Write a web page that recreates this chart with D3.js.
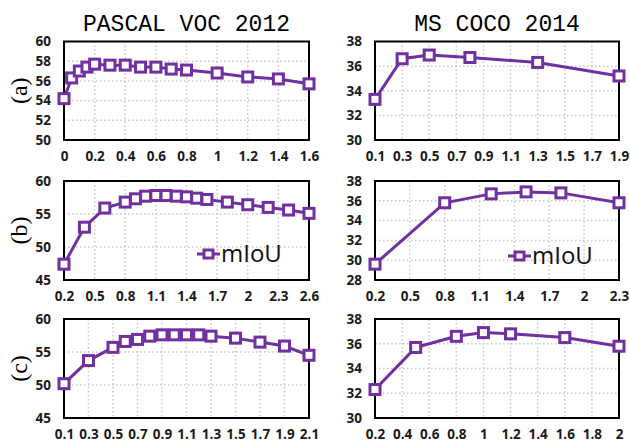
<!DOCTYPE html>
<html>
<head>
<meta charset="utf-8">
<script src="https://cdn.jsdelivr.net/npm/d3@7"></script>
<style>
  body { margin: 0; background: #fff; }
  .tick text { font-family: "Open Sans", sans-serif; font-weight: bold; font-size: 13.5px; fill: #1a1a1a; }
</style>
</head>
<body>
<div id="chart"></div>
<script>
// ---- data ----
var titles = ["PASCAL VOC 2012", "MS COCO 2014"];
var rowLabels = ["(a)", "(b)", "(c)"];

var vocA_x = [0, 0.05, 0.1, 0.15, 0.2, 0.3, 0.4, 0.5, 0.6, 0.7, 0.8, 1.0, 1.2, 1.4, 1.6];
var vocA_y = [54.2, 56.3, 57.0, 57.4, 57.7, 57.6, 57.6, 57.4, 57.4, 57.2, 57.1, 56.8, 56.4, 56.2, 55.7];
var vocA_xticks = [0, 0.2, 0.4, 0.6, 0.8, 1, 1.2, 1.4, 1.6];
var vocA_yticks = [50, 52, 54, 56, 58, 60];

var cocoA_x = [0.1, 0.3, 0.5, 0.8, 1.3, 1.9];
var cocoA_y = [33.3, 36.6, 36.9, 36.7, 36.3, 35.2];
var cocoA_xticks = [0.1, 0.3, 0.5, 0.7, 0.9, 1.1, 1.3, 1.5, 1.7, 1.9];
var cocoA_yticks = [30, 32, 34, 36, 38];

var vocB_x = [0.2, 0.4, 0.6, 0.8, 0.9, 1.0, 1.1, 1.2, 1.3, 1.4, 1.5, 1.6, 1.8, 2.0, 2.2, 2.4, 2.6];
var vocB_y = [47.4, 53.0, 55.9, 56.8, 57.3, 57.7, 57.8, 57.8, 57.7, 57.6, 57.4, 57.2, 56.8, 56.4, 56.0, 55.6, 55.1];
var vocB_xticks = [0.2, 0.5, 0.8, 1.1, 1.4, 1.7, 2, 2.3, 2.6];
var vocB_yticks = [45, 50, 55, 60];

var cocoB_x = [0.2, 0.8, 1.2, 1.5, 1.8, 2.3];
var cocoB_y = [29.6, 35.8, 36.7, 36.9, 36.8, 35.8];
var cocoB_xticks = [0.2, 0.5, 0.8, 1.1, 1.4, 1.7, 2, 2.3];
var cocoB_yticks = [28, 30, 32, 34, 36, 38];

var vocC_x = [0.1, 0.3, 0.5, 0.6, 0.7, 0.8, 0.9, 1.0, 1.1, 1.2, 1.3, 1.5, 1.7, 1.9, 2.1];
var vocC_y = [50.2, 53.7, 55.7, 56.6, 56.9, 57.4, 57.6, 57.6, 57.6, 57.6, 57.4, 57.1, 56.5, 55.9, 54.5];
var vocC_xticks = [0.1, 0.3, 0.5, 0.7, 0.9, 1.1, 1.3, 1.5, 1.7, 1.9, 2.1];
var vocC_yticks = [45, 50, 55, 60];

var cocoC_x = [0.2, 0.5, 0.8, 1.0, 1.2, 1.6, 2.0];
var cocoC_y = [32.3, 35.7, 36.6, 36.9, 36.8, 36.5, 35.8];
var cocoC_xticks = [0.2, 0.4, 0.6, 0.8, 1, 1.2, 1.4, 1.6, 1.8, 2];
var cocoC_yticks = [30, 32, 34, 36, 38];

var seriesName = "mIoU";
var purple = "#7030a0";

// ---- layout ----
var full_width = 630, full_height = 442;
var cols = [{left: 64, right: 309}, {left: 375, right: 619}];
var rows = [{top: 41.5, bottom: 140}, {top: 181, bottom: 280}, {top: 319, bottom: 418}];

var panels = [
  {row: 0, col: 0, xs: vocA_x, ys: vocA_y, xt: vocA_xticks, yt: vocA_yticks},
  {row: 0, col: 1, xs: cocoA_x, ys: cocoA_y, xt: cocoA_xticks, yt: cocoA_yticks},
  {row: 1, col: 0, xs: vocB_x, ys: vocB_y, xt: vocB_xticks, yt: vocB_yticks, legend: [197, 254]},
  {row: 1, col: 1, xs: cocoB_x, ys: cocoB_y, xt: cocoB_xticks, yt: cocoB_yticks, legend: [508, 256]},
  {row: 2, col: 0, xs: vocC_x, ys: vocC_y, xt: vocC_xticks, yt: vocC_yticks},
  {row: 2, col: 1, xs: cocoC_x, ys: cocoC_y, xt: cocoC_xticks, yt: cocoC_yticks}
];

var svg = d3.select("#chart").append("svg")
            .attr("width", full_width)
            .attr("height", full_height);

// column titles
titles.forEach(function(t, i) {
  svg.append("text")
     .attr("x", (cols[i].left + cols[i].right) / 2)
     .attr("y", 31)
     .attr("text-anchor", "middle")
     .style("font-family", "'Liberation Mono', monospace")
     .style("font-size", "23px")
     .text(t);
});

// row labels
rowLabels.forEach(function(t, i) {
  var cy = (rows[i].top + rows[i].bottom) / 2;
  svg.append("text")
     .attr("transform", "translate(27," + cy + ") rotate(-90)")
     .attr("text-anchor", "middle")
     .style("font-family", "'Liberation Serif', serif")
     .style("font-size", "24px")
     .text(t);
});

function drawPanel(p) {
  var c = cols[p.col], r = rows[p.row];
  var xt = p.xt, yt = p.yt;

  var x = d3.scaleLinear()
            .domain([xt[0], xt[xt.length - 1]])
            .range([c.left, c.right]);
  var y = d3.scaleLinear()
            .domain([yt[0], yt[yt.length - 1]])
            .range([r.bottom, r.top]);

  var g = svg.append("g");

  // dotted grid
  g.selectAll(".vgrid").data(xt.slice(1, -1)).enter().append("line")
   .attr("x1", function(d) { return x(d); }).attr("x2", function(d) { return x(d); })
   .attr("y1", r.top).attr("y2", r.bottom)
   .attr("stroke", "#c8c8c8").attr("stroke-width", 1.5).attr("stroke-dasharray", "1.5,2.5");
  g.selectAll(".hgrid").data(yt.slice(1, -1)).enter().append("line")
   .attr("x1", c.left).attr("x2", c.right)
   .attr("y1", function(d) { return y(d); }).attr("y2", function(d) { return y(d); })
   .attr("stroke", "#c8c8c8").attr("stroke-width", 1.5).attr("stroke-dasharray", "1.5,2.5");

  // axes (labels only)
  var xAxis = d3.axisBottom(x).tickValues(xt).tickSize(0).tickPadding(11)
                .tickFormat(function(d) { return d3.format("")(+d.toFixed(2)); });
  g.append("g").attr("transform", "translate(0," + r.bottom + ")")
   .call(xAxis).select(".domain").remove();

  var yAxis = d3.axisLeft(y).tickValues(yt).tickSize(0).tickPadding(13);
  g.append("g").attr("transform", "translate(" + c.left + ",0)")
   .call(yAxis).select(".domain").remove();

  // frame
  g.append("rect")
   .attr("x", c.left).attr("y", r.top)
   .attr("width", c.right - c.left).attr("height", r.bottom - r.top)
   .attr("fill", "none").attr("stroke", "#000").attr("stroke-width", 2);

  var pts = p.xs.map(function(v, i) { return [v, p.ys[i]]; });

  var line = d3.line()
               .x(function(d) { return x(d[0]); })
               .y(function(d) { return y(d[1]); });

  g.append("path").datum(pts)
   .attr("d", line)
   .attr("fill", "none").attr("stroke", purple).attr("stroke-width", 3);

  g.selectAll(".mark").data(pts).enter().append("rect")
   .attr("x", function(d) { return x(d[0]) - 5; })
   .attr("y", function(d) { return y(d[1]) - 5; })
   .attr("width", 10).attr("height", 10)
   .attr("fill", "#fff").attr("stroke", purple).attr("stroke-width", 3);

  if (p.legend) {
    var lx = p.legend[0], ly = p.legend[1];
    g.append("line").attr("x1", lx).attr("x2", lx + 23).attr("y1", ly).attr("y2", ly)
     .attr("stroke", purple).attr("stroke-width", 3);
    g.append("rect").attr("x", lx + 7).attr("y", ly - 4).attr("width", 9).attr("height", 8)
     .attr("fill", "#fff").attr("stroke", purple).attr("stroke-width", 3);
    g.append("text").attr("x", lx + 24).attr("y", ly + 8)
     .style("font-family", "'Open Sans', sans-serif").style("font-size", "24px")
     .attr("fill", "#111")
     .text(seriesName);
  }
}

panels.forEach(drawPanel);
</script>
</body>
</html>
